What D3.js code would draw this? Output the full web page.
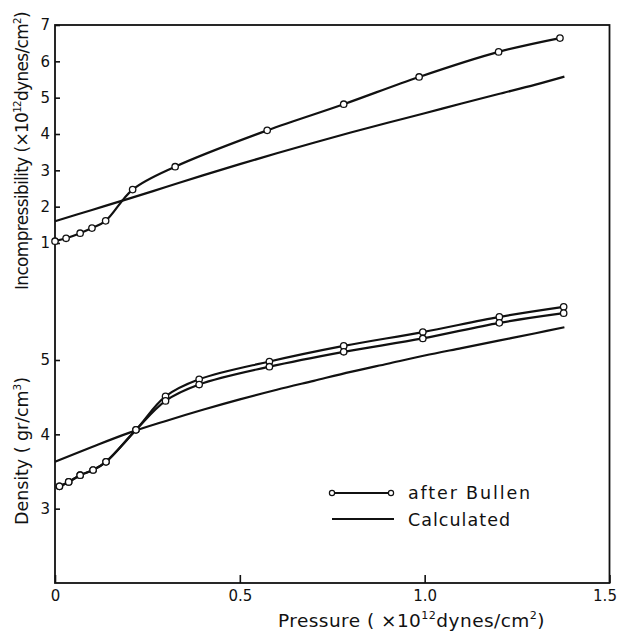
<!DOCTYPE html>
<html>
<head>
<meta charset="utf-8">
<script src="https://cdn.jsdelivr.net/npm/d3@7"></script>
<style>
  body { margin: 0; background: #fff; }
  svg { display: block; }
  text { font-family: "DejaVu Sans", "Liberation Sans", sans-serif; fill: #111; }
</style>
</head>
<body>
<svg id="chart" width="619" height="635"></svg>
<script>
// pressure in 10^12 dynes/cm^2
const bullenIncP = [0, 0.03, 0.068, 0.10, 0.137, 0.21, 0.325, 0.574, 0.781, 0.985, 1.20, 1.366];
const bullenIncV = [1.05, 1.13, 1.27, 1.41, 1.61, 2.47, 3.10, 4.10, 4.82, 5.57, 6.26, 6.64];

const calcIncP = [0, 0.1, 0.2, 0.3, 0.4, 0.5, 0.6, 0.7, 0.8, 0.9, 1.0, 1.1, 1.2, 1.3, 1.378];
const calcIncV = [1.60, 1.91, 2.22, 2.54, 2.86, 3.17, 3.47, 3.76, 4.04, 4.31, 4.57, 4.84, 5.10, 5.36, 5.58];

const bullenDenP = [0.012, 0.037, 0.068, 0.103, 0.138, 0.219, 0.299, 0.39, 0.58, 0.781, 0.995, 1.202, 1.376];
const bullenDenA = [3.30, 3.36, 3.45, 3.52, 3.63, 4.06, 4.51, 4.74, 4.98, 5.19, 5.376, 5.58, 5.715];
const bullenDenB = [3.30, 3.36, 3.45, 3.52, 3.63, 4.06, 4.45, 4.67, 4.91, 5.11, 5.29, 5.50, 5.63];

const calcDenP = [0, 0.1, 0.2, 0.3, 0.4, 0.5, 0.6, 0.7, 0.8, 0.9, 1.0, 1.1, 1.2, 1.3, 1.378];
const calcDenV = [3.63, 3.83, 4.02, 4.18, 4.33, 4.47, 4.60, 4.72, 4.84, 4.95, 5.06, 5.16, 5.26, 5.36, 5.44];

const xTicks = [0, 0.5, 1.0, 1.5];
const incTicks = [1, 2, 3, 4, 5, 6, 7];
const denTicks = [3, 4, 5];

const svg = d3.select("#chart");

const margin = { left: 55, right: 609.5, top: 25, bottom: 583 };

const x = d3.scaleLinear().domain([0, 1.5]).range([margin.left, margin.right]);
const yInc = d3.scaleLinear().domain([1, 7]).range([243, margin.top]);
const yDen = d3.scaleLinear().domain([2, 5]).range([margin.bottom, 360]);

const zip = (a, b) => a.map((d, i) => [d, b[i]]);

// frame
svg.append("rect")
  .attr("x", margin.left).attr("y", margin.top)
  .attr("width", margin.right - margin.left).attr("height", margin.bottom - margin.top)
  .attr("fill", "none").attr("stroke", "#111").attr("stroke-width", 1.8);

// axes
const fmtX = d => d === 0 ? "0" : d.toFixed(1);
const gx = svg.append("g")
  .attr("transform", "translate(0," + margin.bottom + ")")
  .call(d3.axisBottom(x).tickValues(xTicks).tickFormat(fmtX)
    .tickSizeInner(-8).tickSizeOuter(0).tickPadding(7));

const gInc = svg.append("g")
  .attr("transform", "translate(" + margin.left + ",0)")
  .call(d3.axisLeft(yInc).tickValues(incTicks).tickFormat(d3.format("d"))
    .tickSizeInner(-5).tickSizeOuter(0).tickPadding(5));

const gDen = svg.append("g")
  .attr("transform", "translate(" + margin.left + ",0)")
  .call(d3.axisLeft(yDen).tickValues(denTicks).tickFormat(d3.format("d"))
    .tickSizeInner(-5).tickSizeOuter(0).tickPadding(5));

[gx, gInc, gDen].forEach(g => {
  g.select(".domain").remove();
  g.selectAll(".tick line").attr("stroke", "#111").attr("stroke-width", 1.6);
  g.selectAll(".tick text").attr("font-size", 15).attr("fill", "#111")
    .style("font-family", "'DejaVu Sans', sans-serif");
});
// last label sits just inside the page edge, as in the scan
gx.selectAll(".tick text").filter(d => d === 1.5).attr("dx", -5);

// curves
const line = (ys) => d3.line()
  .x(d => x(d[0])).y(d => ys(d[1]))
  .curve(d3.curveCatmullRom.alpha(0.5));

function drawCurve(p, v, ys) {
  svg.append("path")
    .datum(zip(p, v))
    .attr("d", line(ys))
    .attr("fill", "none").attr("stroke", "#111").attr("stroke-width", 2.2);
}

function drawDots(p, v, ys) {
  svg.append("g").selectAll("circle")
    .data(zip(p, v)).join("circle")
    .attr("cx", d => x(d[0])).attr("cy", d => ys(d[1]))
    .attr("r", 3.2)
    .attr("fill", "#fff").attr("stroke", "#111").attr("stroke-width", 1.3);
}

drawCurve(calcIncP, calcIncV, yInc);
drawCurve(bullenIncP, bullenIncV, yInc);
drawCurve(calcDenP, calcDenV, yDen);
drawCurve(bullenDenP, bullenDenA, yDen);
drawCurve(bullenDenP, bullenDenB, yDen);
drawDots(bullenIncP, bullenIncV, yInc);
drawDots(bullenDenP, bullenDenA, yDen);
drawDots(bullenDenP, bullenDenB, yDen);

// spread the letters so a label covers the same length as in the scan
function fit(t, target) {
  const node = t.node();
  const w = node.getBBox().width;
  const n = node.getNumberOfChars();
  t.attr("letter-spacing", ((target - w) / n).toFixed(2));
  return t;
}

// axis titles
function title(parts, size) {
  const t = svg.append("text").attr("font-size", size);
  parts.forEach(p => {
    const s = t.append("tspan").text(p.t);
    if (p.sup) s.attr("font-size", size * 0.6).attr("dy", -size * 0.42);
    if (p.down) s.attr("dy", size * 0.42);
  });
  return t;
}

fit(title([
  { t: "Pressure ( ×10" }, { t: "12", sup: true },
  { t: "dynes/cm", down: true }, { t: "2", sup: true }, { t: ")", down: true }
], 18.5), 267)
  .attr("x", 278).attr("y", 627);

fit(title([
  { t: "Incompressibility (×10" }, { t: "12", sup: true },
  { t: "dynes/cm", down: true }, { t: "2", sup: true }, { t: ")", down: true }
], 17), 278)
  .attr("transform", "translate(28,290) rotate(-90)");

fit(title([
  { t: "Density ( gr/cm" }, { t: "3", sup: true }, { t: ")", down: true }
], 17.5), 148)
  .attr("transform", "translate(28,525) rotate(-90)");

// legend
const legend = svg.append("g");
legend.append("line")
  .attr("x1", 332).attr("x2", 391).attr("y1", 493).attr("y2", 493)
  .attr("stroke", "#111").attr("stroke-width", 2.2);
legend.selectAll("circle").data([332, 391]).join("circle")
  .attr("cx", d => d).attr("cy", 493).attr("r", 2.6)
  .attr("fill", "#fff").attr("stroke", "#111").attr("stroke-width", 1.2);
legend.append("line")
  .attr("x1", 332).attr("x2", 394).attr("y1", 519).attr("y2", 519)
  .attr("stroke", "#111").attr("stroke-width", 2.2);
fit(legend.append("text").attr("font-size", 17.5).text("after Bullen"), 124)
  .attr("x", 408).attr("y", 499);
fit(legend.append("text").attr("font-size", 17.5).text("Calculated"), 103)
  .attr("x", 408).attr("y", 525.5);
</script>
</body>
</html>
